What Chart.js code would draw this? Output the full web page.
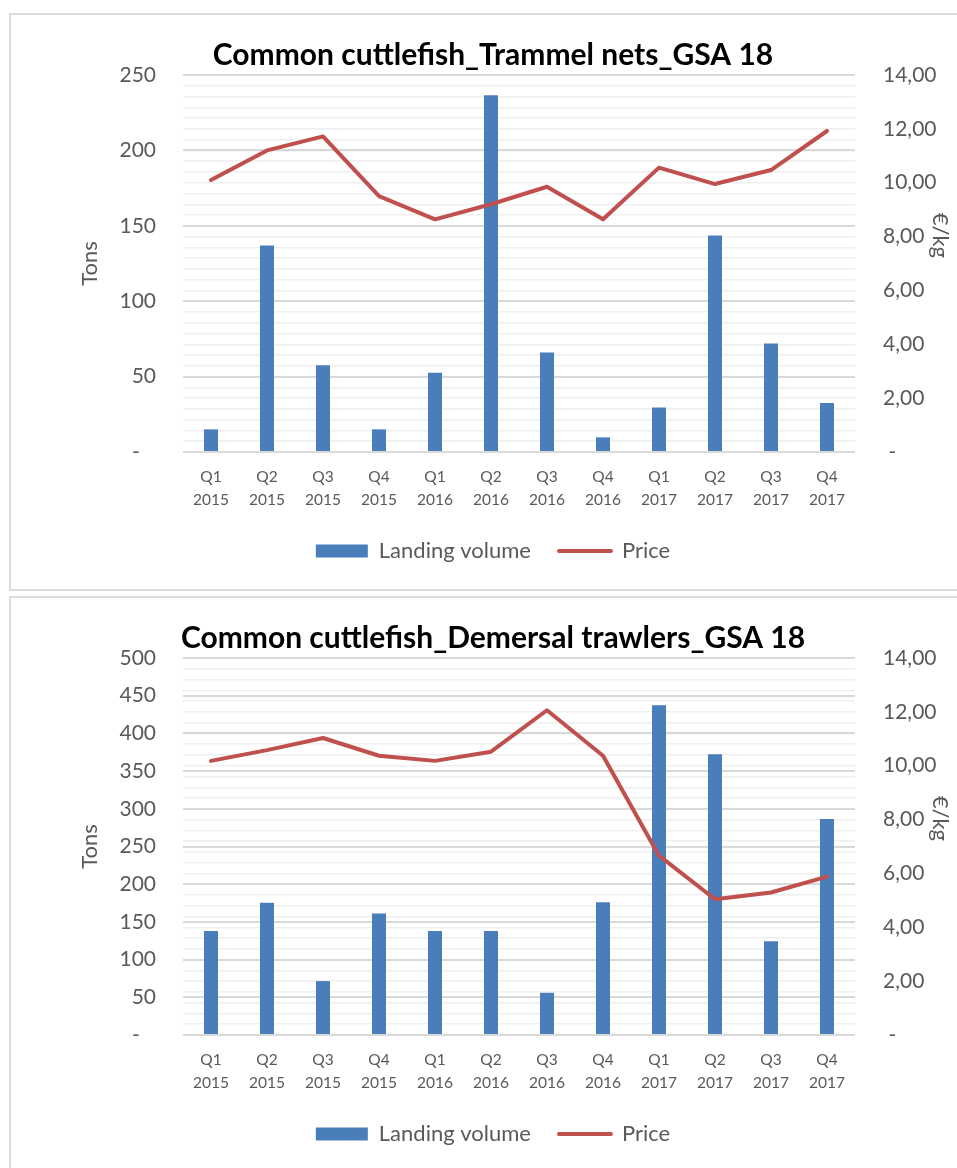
<!DOCTYPE html>
<html>
<head>
<meta charset="utf-8">
<script src="https://cdn.jsdelivr.net/npm/chart.js@4/dist/chart.umd.min.js"></script>
<style>
  body { margin: 0; background: #fff; }
  .panel {
    position: absolute;
    left: 9px;
    width: 948px;
    border: 2px solid #dcdcdc;
    border-right: none;
    background: #fff;
  }
  #panelTop { top: 13px; height: 574px; }
  #panelBottom { top: 596px; height: 572px; border-bottom: none; }
  canvas { display: block; }
</style>
</head>
<body>
<div class="panel" id="panelTop"><canvas id="trammelChart" width="946" height="574"></canvas></div>
<div class="panel" id="panelBottom"><canvas id="trawlerChart" width="946" height="570"></canvas></div>

<script>
// quarters on the x axis (two-line labels)
const quarters = [
    ['Q1', '2015'], ['Q2', '2015'], ['Q3', '2015'], ['Q4', '2015'],
    ['Q1', '2016'], ['Q2', '2016'], ['Q3', '2016'], ['Q4', '2016'],
    ['Q1', '2017'], ['Q2', '2017'], ['Q3', '2017'], ['Q4', '2017']
];

// Trammel nets: landings (tons) and price (EUR/kg)
const trammelLandings = [15, 137, 57.5, 15, 52.5, 236.5, 66, 9.7, 29.5, 143.5, 72, 32.5];
const trammelPrice = [10.10, 11.20, 11.72, 9.50, 8.64, 9.20, 9.85, 8.64, 10.56, 9.95, 10.47, 11.92];

// Demersal trawlers: landings (tons) and price (EUR/kg)
const trawlerLandings = [138, 175.5, 71.5, 161, 138, 138, 56, 176, 437.5, 372.5, 124.5, 286.5];
const trawlerPrice = [10.18, 10.58, 11.03, 10.37, 10.18, 10.52, 12.06, 10.37, 6.66, 5.04, 5.29, 5.88];

// axis ranges / tick steps
const trammelTonsTicks = { max: 250, step: 50 };
const trawlerTonsTicks = { max: 500, step: 50 };
const priceTicks = { max: 14, step: 2, minorStep: 0.4 };

const seriesNames = ['Landing volume', 'Price'];

Chart.defaults.font.family = 'Lato, "Open Sans", sans-serif';
Chart.defaults.color = '#595959';

function fmtPrice(v) {
    if (v === 0) return ' -';
    return v.toFixed(2).replace('.', ',');
}

function createChart(elementId, title, landings, prices, tonsTicks, padBottom) {
    const canvas = document.getElementById(elementId);
    if (!canvas) {
        console.error(`Canvas element ${elementId} not found`);
        return;
    }
    const ctx = canvas.getContext('2d');
    return new Chart(ctx, {
        data: {
            labels: quarters,
            datasets: [{
                type: 'bar',
                label: seriesNames[0],
                data: landings,
                yAxisID: 'y',
                backgroundColor: '#4a7ebb',
                borderWidth: 0,
                barPercentage: 0.25,
                categoryPercentage: 1,
                order: 1
            }, {
                type: 'line',
                label: seriesNames[1],
                data: prices,
                yAxisID: 'y1',
                borderColor: '#c0504d',
                backgroundColor: '#c0504d',
                borderWidth: 4,
                borderCapStyle: 'round',
                borderJoinStyle: 'round',
                pointRadius: 0,
                tension: 0,
                order: 0
            }]
        },
        options: {
            responsive: false,
            animation: false,
            layout: { padding: { left: 18, right: 0, top: 0, bottom: padBottom } },
            plugins: {
                tooltip: { enabled: false },
                title: {
                    display: true,
                    text: title,
                    color: '#000',
                    font: { size: 30, weight: 'bold' },
                    padding: { top: 22, bottom: 2 }
                },
                legend: {
                    position: 'bottom',
                    labels: {
                        usePointStyle: true,
                        pointStyleWidth: 52,
                        boxHeight: 13,
                        padding: 28,
                        color: '#595959',
                        font: { size: 22 },
                        generateLabels(chart) {
                            return chart.data.datasets.map((ds, i) => ({
                                text: ds.label,
                                datasetIndex: i,
                                fillStyle: ds.type === 'line' ? ds.borderColor : ds.backgroundColor,
                                strokeStyle: ds.type === 'line' ? ds.borderColor : ds.backgroundColor,
                                lineWidth: ds.type === 'line' ? ds.borderWidth : 0,
                                lineCap: 'round',
                                pointStyle: ds.type === 'line' ? 'line' : 'rect',
                                fontColor: '#595959',
                                hidden: false
                            }));
                        }
                    }
                }
            },
            scales: {
                x: {
                    grid: { display: false, drawTicks: false },
                    border: { display: false },
                    ticks: {
                        color: '#595959',
                        font: { size: 15.5, lineHeight: 1.45 },
                        padding: 14,
                        maxRotation: 0,
                        autoSkip: false
                    },
                    afterFit(scale) { scale.height = 60; }
                },
                y: {
                    position: 'left',
                    min: 0,
                    max: tonsTicks.max,
                    grid: { color: '#d9d9d9', lineWidth: 2, drawTicks: false },
                    border: { display: false },
                    ticks: {
                        stepSize: tonsTicks.step,
                        padding: 27,
                        color: '#595959',
                        font: { size: 21 },
                        callback: v => v === 0 ? '-   ' : v
                    },
                    title: {
                        display: true,
                        text: 'Tons',
                        color: '#595959',
                        font: { size: 22 },
                        padding: { top: 48, bottom: 0 }
                    },
                    afterFit(scale) { scale.width = 154; }
                },
                y1: {
                    position: 'right',
                    min: 0,
                    max: priceTicks.max,
                    // fine light grid every 0.4, labels only every 2
                    grid: { color: '#efefef', lineWidth: 1.5, drawTicks: false, z: -2 },
                    border: { display: false },
                    ticks: {
                        stepSize: priceTicks.minorStep,
                        autoSkip: false,
                        padding: 28,
                        color: '#595959',
                        font: { size: 21 },
                        callback: v => {
                            const r = v / priceTicks.step;
                            return Math.abs(r - Math.round(r)) < 1e-6 ? fmtPrice(v) : '';
                        }
                    },
                    title: {
                        display: true,
                        // trailing spaces lift the unit label a little above the axis middle
                        text: '€/kg          ',
                        color: '#595959',
                        font: { size: 22 },
                        padding: { top: 4, bottom: 0 }
                    },
                    afterFit(scale) { scale.width = 102; }
                }
            }
        }
    });
}

try {
    createChart('trammelChart', 'Common cuttlefish_Trammel nets_GSA 18',
        trammelLandings, trammelPrice, trammelTonsTicks, 17);
    createChart('trawlerChart', 'Common cuttlefish_Demersal trawlers_GSA 18',
        trawlerLandings, trawlerPrice, trawlerTonsTicks, 13);
} catch (error) {
    console.error('Error creating charts:', error);
}
</script>
</body>
</html>
